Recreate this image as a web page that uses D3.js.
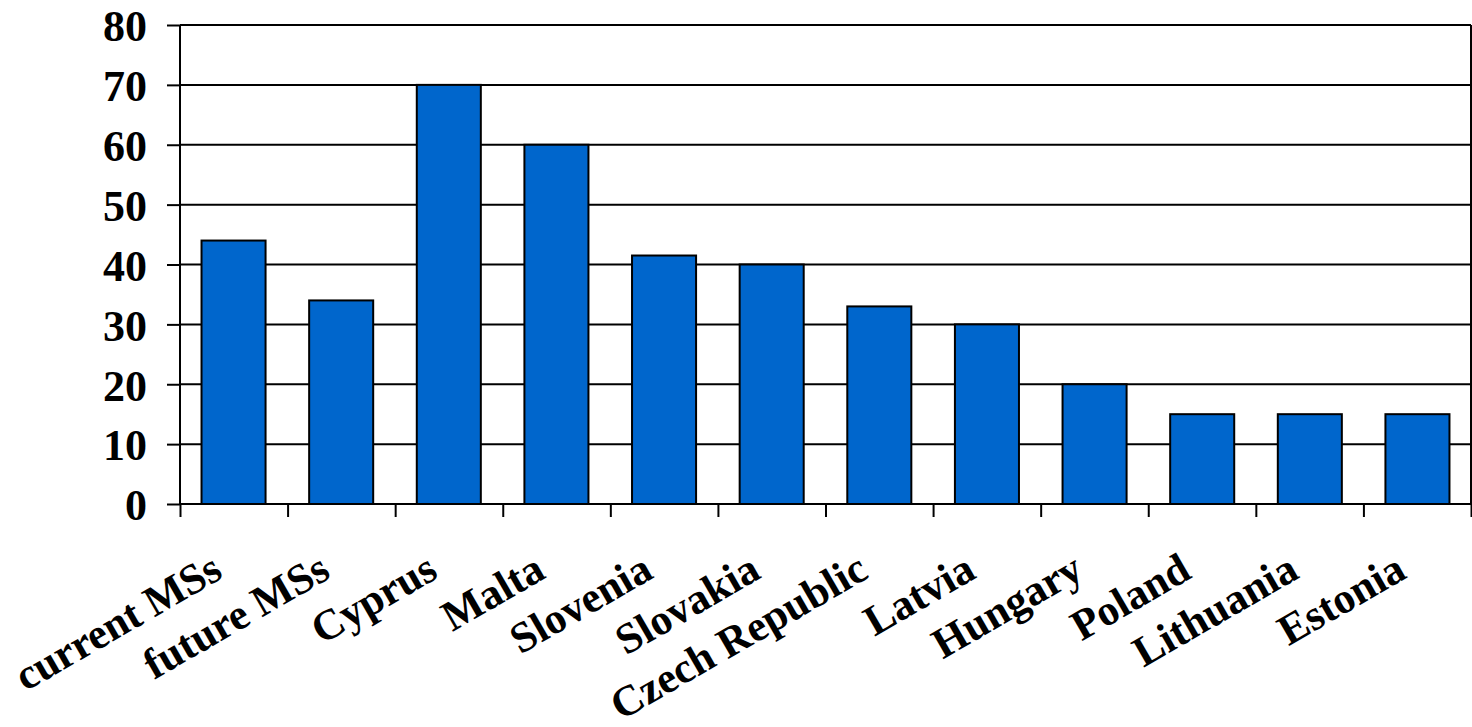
<!DOCTYPE html>
<html>
<head>
<meta charset="utf-8">
<script src="https://cdn.jsdelivr.net/npm/d3@7"></script>
<style>
  body { margin: 0; background: #fff; }
  text { font-family: "Liberation Serif", "Times New Roman", serif; font-weight: bold; }
</style>
</head>
<body>
<div id="chart"></div>
<script>
const categories = ["current MSs", "future MSs", "Cyprus", "Malta", "Slovenia", "Slovakia",
  "Czech Republic", "Latvia", "Hungary", "Poland", "Lithuania", "Estonia"];
const values = [44, 34, 70, 60, 41.5, 40, 33, 30, 20, 15, 15, 15];
const yTicks = [0, 10, 20, 30, 40, 50, 60, 70, 80];

const margin = { top: 25, right: 1, bottom: 223, left: 180 },
  width = 1472 - margin.left - margin.right,
  height = 727 - margin.top - margin.bottom;

const svg = d3.select("#chart")
  .append("svg")
  .attr("width", 1472)
  .attr("height", 727)
  .append("g")
  .attr("transform", "translate(" + margin.left + "," + margin.top + ")");

const x = d3.scaleBand().domain(categories).range([0, width]).paddingInner(0.405).paddingOuter(0.2);
const xEdge = d3.scaleLinear().domain([0, categories.length]).range([0, width]);
const y = d3.scaleLinear().domain([0, 80]).range([height, 0]);

// gridlines
svg.append("g")
  .selectAll("line")
  .data(yTicks)
  .enter()
  .append("line")
  .attr("x1", 0)
  .attr("x2", width)
  .attr("y1", d => y(d))
  .attr("y2", d => y(d))
  .attr("stroke", "#000")
  .attr("stroke-width", 2);

// right border
svg.append("line")
  .attr("x1", width).attr("x2", width)
  .attr("y1", 0).attr("y2", height)
  .attr("stroke", "#000").attr("stroke-width", 2);

// bars
svg.selectAll(".bar")
  .data(values)
  .enter()
  .append("rect")
  .attr("class", "bar")
  .attr("x", (d, i) => x(categories[i]))
  .attr("y", d => y(d))
  .attr("width", x.bandwidth())
  .attr("height", d => height - y(d))
  .attr("fill", "#0066CC")
  .attr("stroke", "#000")
  .attr("stroke-width", 2);

// y axis
const yAxis = svg.append("g")
  .call(d3.axisLeft(y).tickValues(yTicks).tickSize(13).tickPadding(20));
yAxis.select(".domain").attr("stroke-width", 2).attr("d", "M0," + height + "V0");
yAxis.selectAll(".tick line").attr("stroke-width", 2);
yAxis.selectAll(".tick text").style("font-size", "44px").attr("fill", "#000").attr("dy", "0.36em");

// x axis ticks at band edges
const xAxis = svg.append("g")
  .attr("transform", "translate(0," + height + ")")
  .call(d3.axisBottom(xEdge).tickValues(d3.range(0, categories.length + 1)).tickSize(13).tickFormat(""));
xAxis.select(".domain").attr("stroke-width", 2).attr("d", "M0,0H" + width);
xAxis.selectAll(".tick line").attr("stroke-width", 2);

// rotated category labels
svg.append("g")
  .selectAll("text")
  .data(categories)
  .enter()
  .append("text")
  .attr("transform", d => "translate(" + (x(d) + x.bandwidth() / 2 - 9) + "," + (height + 73) + ") rotate(-30)")
  .attr("text-anchor", "end")
  .style("font-size", "43px")
  .text(d => d);
</script>
</body>
</html>
